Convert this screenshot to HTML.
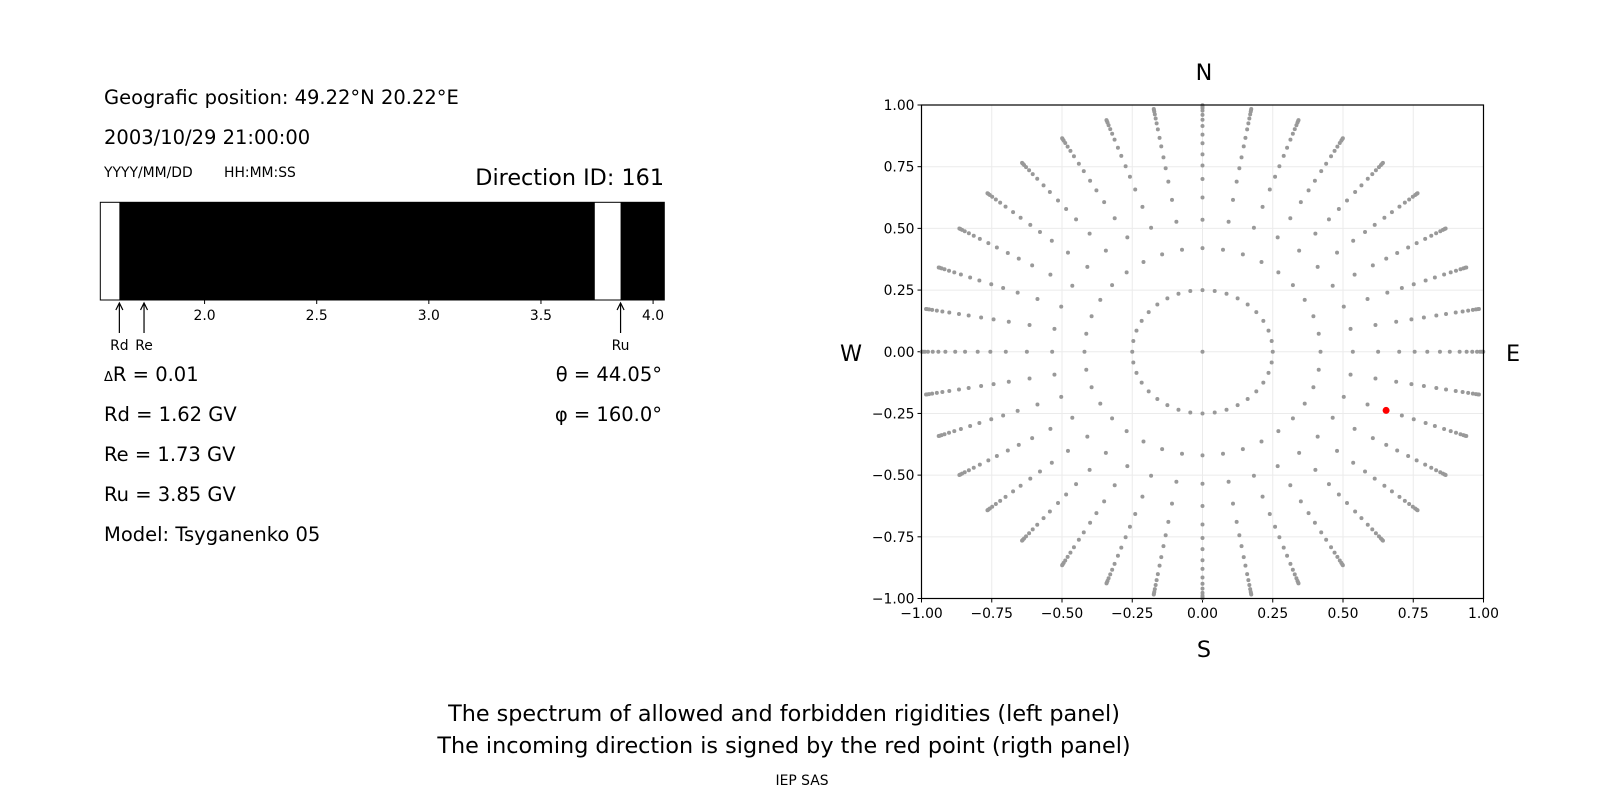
<!DOCTYPE html>
<html><head><meta charset="utf-8">
<style>
html,body{margin:0;padding:0;background:#fff;}
svg text{font-family:"DejaVu Sans","Liberation Sans",sans-serif;fill:#000;}
</style></head>
<body>
<svg width="1600" height="800" viewBox="0 0 1600 800" xmlns="http://www.w3.org/2000/svg">
<g id="left">
<text x="104" y="104" font-size="19.5">Geografic position: 49.22°N 20.22°E</text>
<text x="104" y="144" font-size="19.5">2003/10/29 21:00:00</text>
<text x="104" y="177" font-size="13.9">YYYY/MM/DD</text>
<text x="224" y="177" font-size="13.9">HH:MM:SS</text>
<text x="664" y="185" font-size="22.3" text-anchor="end">Direction ID: 161</text>
<g id="bar"></g>
<text x="104" y="381" font-size="19.5"><tspan font-size="13">Δ</tspan>R = 0.01</text>
<text x="104" y="421" font-size="19.5">Rd = 1.62 GV</text>
<text x="104" y="461" font-size="19.5">Re = 1.73 GV</text>
<text x="104" y="501" font-size="19.5">Ru = 3.85 GV</text>
<text x="104" y="541" font-size="19.5">Model: Tsyganenko 05</text>
<text x="662" y="381" font-size="19.5" text-anchor="end">θ = 44.05°</text>
<text x="662" y="421" font-size="19.5" text-anchor="end">φ = 160.0°</text>
</g>
<g id="polar"></g>
<text x="1204" y="80" font-size="22.3" text-anchor="middle">N</text>
<text x="1204" y="657" font-size="22.3" text-anchor="middle">S</text>
<text x="851" y="361" font-size="22.3" text-anchor="middle">W</text>
<text x="1513" y="361" font-size="22.3" text-anchor="middle">E</text>
<text x="784" y="721" font-size="22.3" text-anchor="middle">The spectrum of allowed and forbidden rigidities (left panel)</text>
<text x="784" y="753" font-size="22.3" text-anchor="middle">The incoming direction is signed by the red point (rigth panel)</text>
<text x="802" y="785" font-size="13.9" text-anchor="middle">IEP SAS</text>
</svg>
<script>
const NS="http://www.w3.org/2000/svg";
// ---- rigidity spectrum data ----
const rigMin=1.535, rigMax=4.05;
const allowedStarts=[1.535,3.74];
const allowedEnds=[1.62,3.855];
const barTicks=[2.0,2.5,3.0,3.5,4.0];
const arrowNames=["Rd","Re","Ru"];
const arrowValues=[1.62,1.73,3.855];
// ---- direction data ----
const rayAngles=[];for(let a=0;a<360;a+=10)rayAngles.push(a);
const radii=[0.25,0.42,0.535,0.625,0.70,0.755,0.80,0.845,0.88,0.915,0.94,0.96,0.977,0.988,0.995,0.999];
const axisTicks=[-1,-0.75,-0.5,-0.25,0,0.25,0.5,0.75,1];
const redTheta=44.05, redPhi=160.0;

function mk(tag,attrs,parent){const e=document.createElementNS(NS,tag);for(const k in attrs)e.setAttribute(k,attrs[k]);parent.appendChild(e);return e;}
// bar
const bar=document.getElementById('bar');
const bx0=100.3,bx1=664.3,by0=202.3,by1=300;
const bX=v=>bx0+(v-rigMin)/(rigMax-rigMin)*(bx1-bx0);
let r=mk('rect',{x:bx0,y:by0,width:bx1-bx0,height:by1-by0,fill:'#000'},bar);


allowedStarts.forEach((s,i)=>{const e=mk('rect',{x:bX(s),y:by0,width:bX(allowedEnds[i])-bX(s),height:by1-by0,fill:'#fff'},bar);

});
mk('rect',{x:bx0,y:by0,width:bx1-bx0,height:by1-by0,fill:'none',stroke:'#000','stroke-width':1},bar);
barTicks.forEach(t=>{const x=bX(t);mk('line',{x1:x,x2:x,y1:by1,y2:by1+4,stroke:'#000'},bar);
const tx=mk('text',{x:x,y:320,'font-size':13.9,'text-anchor':'middle'},bar);tx.textContent=t.toFixed(1);

});
arrowNames.forEach((n,i)=>{const x=bX(arrowValues[i]);
mk('line',{x1:x,x2:x,y1:304,y2:333,stroke:'#000','stroke-width':1.2},bar);
mk('path',{d:`M${x-3.5} ${310} L${x} ${303} L${x+3.5} ${310}`,fill:'none',stroke:'#000','stroke-width':1.2},bar);
const t=mk('text',{x:x,y:350,'font-size':13.9,'text-anchor':'middle'},bar);t.textContent=n;

});
// polar
const P=document.getElementById('polar');
const px0=921.5,px1=1483.5,py0=105,py1=598.5;
const X=v=>px0+(v+1)/2*(px1-px0), Y=v=>py1-(v+1)/2*(py1-py0);
axisTicks.forEach(t=>{
mk('line',{x1:X(t),x2:X(t),y1:py0,y2:py1,stroke:'#ebebeb','stroke-width':1},P);
mk('line',{x1:px0,x2:px1,y1:Y(t),y2:Y(t),stroke:'#ebebeb','stroke-width':1},P);
mk('line',{x1:X(t),x2:X(t),y1:py1,y2:py1+4,stroke:'#000'},P);
mk('line',{x1:px0-4,x2:px0,y1:Y(t),y2:Y(t),stroke:'#000'},P);
const lab=(t<0?'\u2212':'')+Math.abs(t).toFixed(2);
const a=mk('text',{x:X(t),y:618,'font-size':13.9,'text-anchor':'middle'},P);a.textContent=lab;


const b=mk('text',{x:px0-7,y:Y(t)+5,'font-size':13.9,'text-anchor':'end'},P);b.textContent=lab;

});
const c0=mk('circle',{cx:X(0),cy:Y(0),r:2,fill:'#999'},P);


rayAngles.forEach(a=>{const rad=a*Math.PI/180;radii.forEach(rr=>{
const c=mk('circle',{cx:X(rr*Math.cos(rad)),cy:Y(rr*Math.sin(rad)),r:2,fill:'#999'},P);

});});
const sr=Math.sin(redTheta*Math.PI/180),ang=(redPhi-180)*Math.PI/180;
const red=mk('circle',{cx:X(sr*Math.cos(ang)),cy:Y(sr*Math.sin(ang)),r:3.5,fill:'#ff0000'},P);


mk('rect',{x:px0,y:py0,width:px1-px0,height:py1-py0,fill:'none',stroke:'#000','stroke-width':1.2},P);
</script>
</body></html>
